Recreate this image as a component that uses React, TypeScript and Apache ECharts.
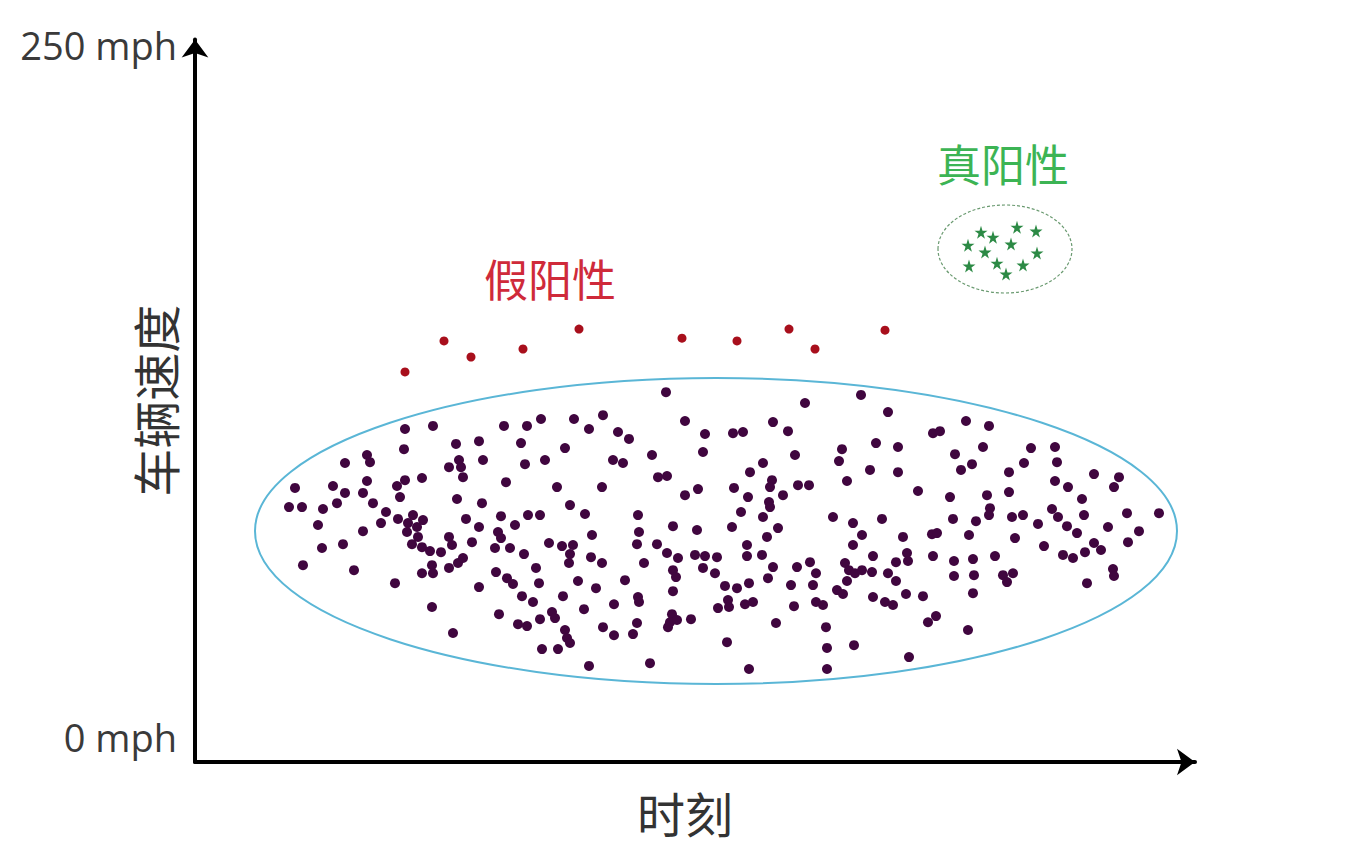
import React, { useEffect, useRef } from "react";
import * as echarts from "echarts";

// y-axis tick labels (mph)
const speedTicks: number[] = [0, 250];

// normal traffic: [time, speed mph]
const normalPoints: number[][] = [
  [210, 111.3], [238, 112.4], [309, 112.4], [332, 112.4], [346, 114.9], [379, 114.9],
  [209, 104.0], [261, 105.9], [284, 106.9], [326, 106.2], [370, 104.4], [150, 99.0],
  [172, 101.9], [175, 99.3], [264, 100.1], [254, 97.5], [266, 97.5], [268, 93.9],
  [288, 100.1], [330, 98.6], [350, 100.1], [100, 90.0], [138, 90.7], [150, 88.2],
  [172, 92.5], [168, 88.2], [178, 84.5], [142, 84.5], [94, 83.1], [107, 83.1],
  [128, 82.4], [123, 76.6], [168, 74.4], [191, 81.3], [186, 77.3], [202, 90.7],
  [210, 92.8], [227, 93.6], [205, 86.7], [203, 78.8], [213, 77.3], [218, 80.2],
  [228, 78.4], [222, 75.9], [212, 74.1], [262, 86.0], [287, 84.5], [311, 92.1],
  [362, 90.3], [375, 83.8], [271, 78.8], [284, 75.9], [306, 79.8], [303, 74.1],
  [320, 76.6], [333, 80.2], [345, 80.2], [254, 72.3], [223, 72.3],
  [217, 69.7], [227, 68.6], [235, 67.2], [246, 66.8], [257, 69.4], [277, 70.4],
  [306, 71.9], [127, 68.3], [148, 69.7], [108, 62.1], [159, 60.3], [200, 55.6],
  [227, 59.2], [237, 62.1], [238, 59.2], [254, 61.1], [263, 62.9], [268, 64.7],
  [284, 54.2], [300, 68.3], [315, 68.3], [329, 66.1], [301, 59.6], [312, 57.4],
  [318, 55.3], [327, 50.9], [338, 48.8], [341, 61.1], [344, 55.6], [368, 50.9],
  [354, 70.1], [367, 69.0], [378, 69.4], [375, 66.1], [374, 62.9], [383, 56.4],
  [237, 47.0], [304, 44.4], [323, 40.8], [332, 40.1], [345, 42.6], [357, 45.2],
  [360, 43.0], [370, 38.7], [372, 35.8], [375, 34.0], [347, 31.8], [363, 31.8],
  [258, 37.6],
  [471, 124.6], [610, 120.7], [666, 123.6], [693, 117.4], [408, 116.3], [394, 111.3],
  [423, 110.2], [434, 107.7], [490, 114.2], [510, 109.5], [538, 109.8], [548, 110.2],
  [578, 113.8], [593, 110.5], [681, 106.2], [703, 104.8], [418, 100.1], [428, 99.0],
  [457, 101.9], [508, 103.0], [555, 95.7], [568, 99.0], [600, 101.9], [647, 104.0],
  [644, 99.7], [675, 96.5], [703, 95.7], [463, 93.9], [472, 94.3], [407, 90.3],
  [490, 87.4], [503, 89.6], [539, 90.0], [553, 86.7], [577, 92.8], [575, 90.3],
  [574, 84.9], [575, 83.1], [588, 87.4], [603, 91.0], [614, 91.0], [652, 92.5],
  [390, 80.6], [443, 80.2], [444, 74.1], [478, 76.2], [502, 74.8], [537, 75.9],
  [546, 81.3], [568, 79.5], [583, 75.5], [572, 72.3], [397, 73.0], [638, 79.5],
  [658, 77.3], [687, 78.8], [667, 73.0],
  [442, 69.7], [462, 69.7], [472, 66.5], [483, 64.7], [396, 65.0], [407, 62.9],
  [449, 62.9], [500, 65.8], [510, 65.4], [522, 65.0], [508, 61.1], [520, 59.2],
  [478, 60.3], [481, 57.8], [478, 52.7], [552, 69.4], [552, 65.4], [567, 65.8],
  [578, 61.4], [573, 57.4], [554, 55.6], [530, 54.6], [542, 53.8], [533, 49.5],
  [534, 47.0], [523, 46.6], [550, 48.0], [558, 48.8], [602, 61.4], [615, 63.2],
  [621, 59.2], [596, 54.9], [618, 54.9], [599, 47.3], [621, 48.8], [628, 47.7],
  [650, 62.9], [654, 60.3], [660, 59.2], [667, 60.3], [678, 65.4], [677, 59.6],
  [693, 59.2], [701, 63.2], [701, 56.4], [652, 56.4], [642, 53.1], [648, 51.7],
  [678, 50.6], [690, 48.8], [698, 47.7], [658, 69.4], [401, 53.8], [430, 56.7],
  [419, 48.0], [443, 50.6], [444, 48.8], [389, 46.2], [408, 39.7], [419, 36.8],
  [438, 37.2], [442, 41.2], [477, 44.4], [475, 41.5], [482, 42.3], [473, 39.7],
  [496, 42.6], [581, 41.2], [631, 39.7], [632, 32.2], [632, 24.6], [659, 33.2],
  [532, 34.3], [554, 24.6], [455, 26.7], [394, 25.7],
  [771, 114.2], [794, 112.4], [738, 109.8], [745, 110.5], [760, 102.2], [788, 104.8],
  [777, 98.6], [766, 96.5], [836, 104.4], [860, 104.8], [829, 99.0], [862, 99.3],
  [814, 95.7], [899, 95.0], [924, 93.9], [919, 90.3], [723, 88.9], [755, 86.7],
  [792, 87.4], [814, 88.5], [860, 92.5], [873, 90.3], [887, 86.0], [795, 82.7],
  [794, 80.2], [758, 78.8], [781, 78.0], [817, 79.5], [828, 80.2], [843, 77.0],
  [857, 82.4], [863, 79.5], [872, 76.2], [882, 73.7], [889, 80.2], [932, 80.9],
  [964, 80.9], [913, 75.9], [944, 74.4], [708, 72.3], [737, 73.3], [742, 73.7],
  [774, 73.0], [820, 71.9],
  [849, 69.0], [933, 70.4], [899, 70.1], [906, 67.6], [890, 66.8], [868, 65.8],
  [878, 64.7], [712, 66.5], [713, 63.6], [738, 65.4], [759, 63.6], [778, 64.3],
  [800, 65.4], [759, 58.2], [779, 58.5], [808, 58.5], [818, 59.2], [812, 56.0],
  [918, 60.7], [919, 58.2], [892, 55.6], [711, 51.7], [728, 50.9], [778, 52.0],
  [741, 43.7], [733, 41.5], [773, 38.7], [714, 28.9],
];

// false positives: [time, speed mph]
const falsePositivePoints: number[][] = [
  [210, 131.9], [249, 143.1], [276, 137.3], [328, 140.2], [384, 147.4],
  [487, 144.1], [542, 143.1], [594, 147.4], [620, 140.2], [690, 147.0],
];

// true positives: [time, speed mph]
const truePositivePoints: number[][] = [
  [786, 182.4], [798, 180.6], [822, 184.2], [841, 182.8], [773, 177.7], [790, 175.2],
  [816, 178.1], [802, 171.2], [774, 170.2], [811, 167.3], [828, 170.5], [842, 174.9],
];

const STAR =
  "path://M50,0 L61,35 L98,35 L68,57 L79,91 L50,70 L21,91 L32,57 L2,35 L39,35 Z";
const CJK = '"Noto Sans CJK SC", "Noto Sans", sans-serif';

export default function App() {
  const ref = useRef<HTMLDivElement>(null);

  useEffect(() => {
    if (!ref.current) return;
    const chart = echarts.init(ref.current, null, { renderer: "svg" });
    chart.setOption({
      animation: false,
      backgroundColor: "#ffffff",
      grid: {
        left: 195,
        right: 159,
        top: 39.5,
        bottom: 98,
        containLabel: false,
        outerBoundsMode: "none",
      },
      xAxis: {
        type: "value",
        min: 0,
        max: 1000,
        name: "时刻",
        nameLocation: "middle",
        nameGap: 26,
        nameMoveOverlap: false,
        nameTextStyle: {
          fontSize: 48,
          color: "#333333",
          fontFamily: CJK,
          padding: [0, 20, 0, 0],
        },
        axisLine: {
          onZero: false,
          symbol: ["none", "arrow"],
          symbolSize: [20, 18],
          lineStyle: { color: "#000000", width: 4 },
        },
        axisTick: { show: false },
        axisLabel: { show: false },
        splitLine: { show: false },
      },
      yAxis: {
        type: "value",
        min: -9,
        max: 252,
        name: "车辆速度",
        nameLocation: "middle",
        nameRotate: 90,
        nameGap: 17,
        nameMoveOverlap: false,
        nameTextStyle: { fontSize: 48, color: "#333333", fontFamily: CJK },
        axisLine: {
          onZero: false,
          symbol: ["none", "arrow"],
          symbolSize: [20, 18],
          lineStyle: { color: "#000000", width: 4 },
        },
        axisTick: { show: false },
        axisLabel: {
          customValues: speedTicks,
          formatter: "{value} mph",
          fontSize: 38,
          color: "#3a3a3a",
          fontFamily: '"Open Sans", "Noto Sans", sans-serif',
          margin: 18,
        },
        splitLine: { show: false },
      },
      series: [
        {
          name: "正常",
          type: "scatter",
          data: normalPoints,
          symbol: "circle",
          symbolSize: 10,
          itemStyle: { color: "#40063f", opacity: 1 },
          z: 3,
        },
        {
          name: "假阳性",
          type: "scatter",
          data: falsePositivePoints,
          symbol: "circle",
          symbolSize: 9,
          itemStyle: { color: "#a80f1c", opacity: 1 },
          z: 3,
        },
        {
          name: "真阳性",
          type: "scatter",
          data: truePositivePoints,
          symbol: STAR,
          symbolSize: 13,
          itemStyle: { color: "#2c8a45", opacity: 1 },
          z: 3,
        },
      ],
      graphic: [
        {
          type: "ellipse",
          shape: { cx: 716, cy: 531, rx: 461, ry: 153 },
          style: { fill: "none", stroke: "#5ab6d6", lineWidth: 2 },
          z: 1,
        },
        {
          type: "ellipse",
          shape: { cx: 1005, cy: 249, rx: 67, ry: 44 },
          style: {
            fill: "none",
            stroke: "#6a9a70",
            lineWidth: 1.2,
            lineDash: [3, 2],
          },
          z: 1,
        },
        {
          type: "text",
          x: 550,
          y: 278,
          style: {
            text: "假阳性",
            font: `44px ${CJK}`,
            fill: "#cf2a3a",
            align: "center",
            verticalAlign: "middle",
          },
        },
        {
          type: "text",
          x: 1003,
          y: 163,
          style: {
            text: "真阳性",
            font: `44px ${CJK}`,
            fill: "#3cb454",
            align: "center",
            verticalAlign: "middle",
          },
        },
      ],
    });
    return () => chart.dispose();
  }, []);

  return (
    <div
      ref={ref}
      style={{
        position: "fixed",
        left: 0,
        top: 0,
        width: 1354,
        height: 860,
        background: "#ffffff",
      }}
    />
  );
}
